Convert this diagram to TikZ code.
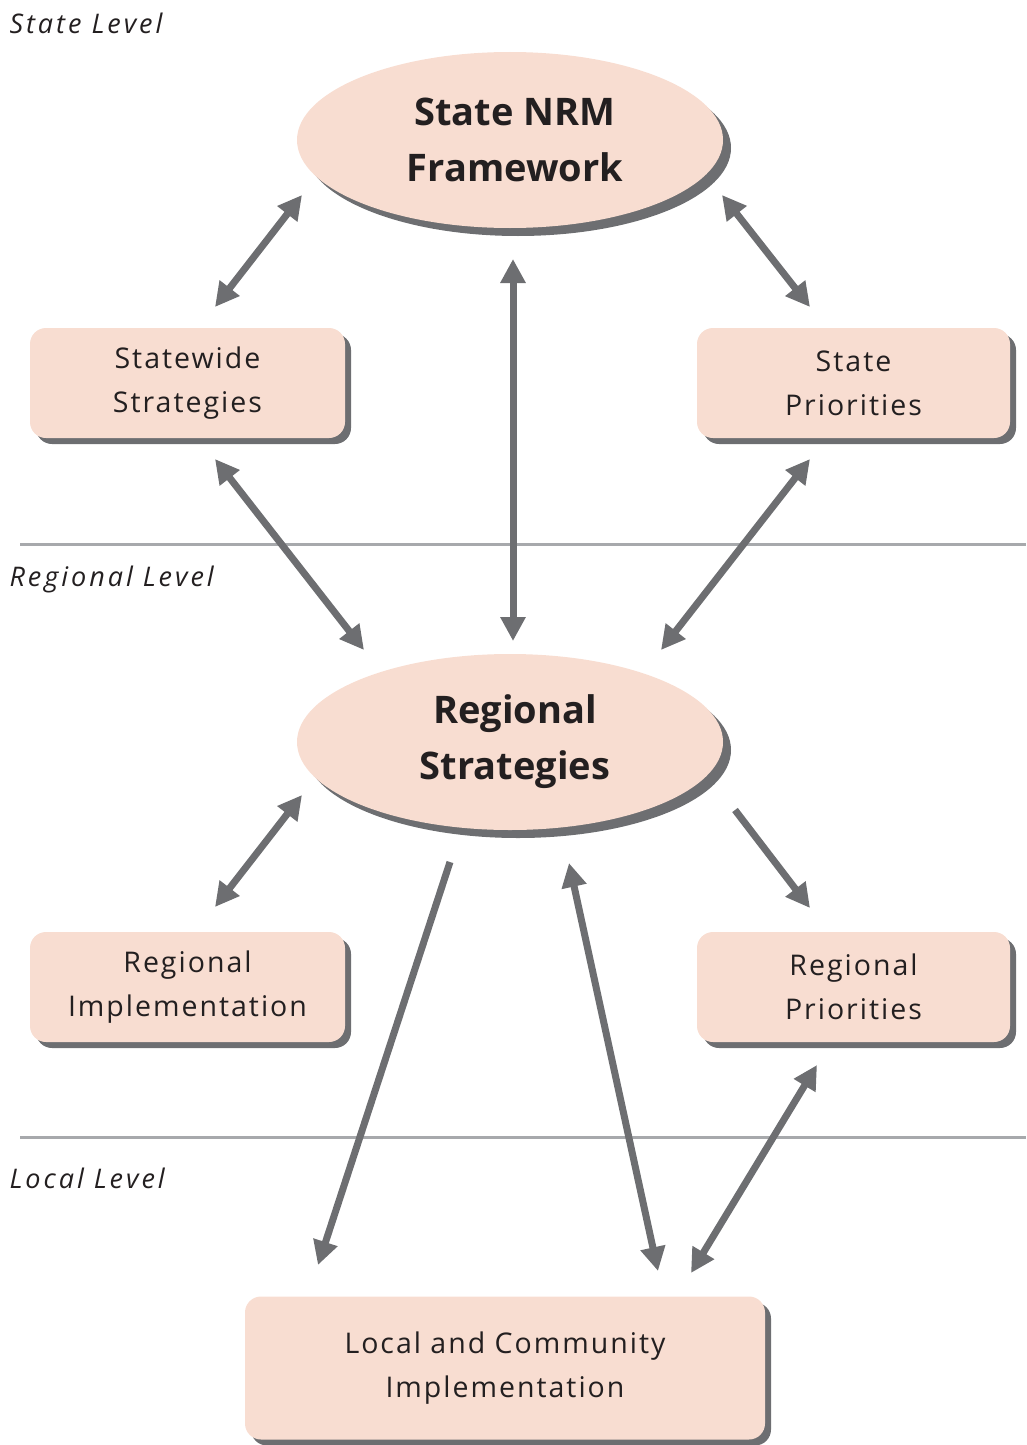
\documentclass[tikz,border=0pt]{standalone}
\usepackage{fontspec}
\setmainfont{Open Sans}
\newfontfamily\boxfont[LetterSpace=7]{Open Sans}
\newfontfamily\levelfont[LetterSpace=11]{Open Sans}
\usetikzlibrary{shapes.geometric,arrows.meta,shadows}
\definecolor{peach}{HTML}{F8DDD1}
\definecolor{shade}{HTML}{6D6E71}
\definecolor{rule}{HTML}{A7A9AC}
\definecolor{ink}{HTML}{231F20}
\tikzset{
  oval/.style={ellipse, fill=peach, inner sep=0pt, minimum width=426pt, minimum height=176pt,
    align=center, text=ink, font=\fontsize{38}{56}\selectfont\bfseries,
    drop shadow={shadow xshift=8pt, shadow yshift=-8pt, fill=shade, opacity=1}},
  box/.style={rectangle, rounded corners=16pt, fill=peach, inner sep=0pt,
    align=center, text=ink, font=\boxfont\fontsize{28.5}{44}\selectfont,
    drop shadow={shadow xshift=6pt, shadow yshift=-6pt, fill=shade, opacity=1}},
  conn/.style={draw=shade, line width=7pt, {Triangle[length=24pt,width=24pt]}-{Triangle[length=24pt,width=24pt]}},
  conn1/.style={draw=shade, line width=7pt, -{Triangle[length=24pt,width=24pt]}},
  level/.style={anchor=west, text=ink, font=\levelfont\fontsize{27}{30}\selectfont\itshape},
  divider/.style={draw=rule, line width=3pt}
}
\begin{document}
\begin{tikzpicture}[x=1pt,y=-1pt]
\useasboundingbox (0,0) rectangle (1026,1445);
% dividers
\coordinate (d1a) at (20,544); \coordinate (d1b) at (1026,544);
\coordinate (d2a) at (20,1137); \coordinate (d2b) at (1026,1137);
\draw[divider] (d1a) -- (d1b);
\draw[divider] (d2a) -- (d2b);
% level labels
\node[level] (lstate) at (6,23) {State Level};
\node[level] (lreg) at (6,579) {Regional Level};
\node[level] (lloc) at (6,1178) {Local Level};
% nodes
\node[oval] (snrm) at (510,140) {\hspace*{10pt}State NRM\\\hspace*{10pt}Framework};
\node[oval] (rs) at (510,742) {\hspace*{10pt}Regional\\\hspace*{10pt}Strategies};
\node[box, minimum width=315pt, minimum height=110pt] (sws) at (187.5,383) {Statewide\\Strategies};
\node[box, minimum width=313pt, minimum height=110pt] (sp) at (853.5,383) {State\\Priorities};
\node[box, minimum width=315pt, minimum height=110pt] (ri) at (187.5,987) {Regional\\Implementation};
\node[box, minimum width=313pt, minimum height=110pt] (rp) at (853.5,987) {Regional\\Priorities};
\node[box, minimum width=520pt, minimum height=143pt] (lc) at (505,1368) {Local and Community\\Implementation};
% arrow end points
\coordinate (a1s) at (302,195); \coordinate (a1e) at (215,307);
\coordinate (a2s) at (513,259); \coordinate (a2e) at (513,641);
\coordinate (a3s) at (722,195); \coordinate (a3e) at (810,307);
\coordinate (a4s) at (215,459); \coordinate (a4e) at (364,650);
\coordinate (a5s) at (810,459); \coordinate (a5e) at (661,650);
\coordinate (a6s) at (302,795); \coordinate (a6e) at (215,907);
\coordinate (a7s) at (735,810); \coordinate (a7e) at (810,908);
\coordinate (a8s) at (450,862); \coordinate (a8e) at (318,1265);
\coordinate (a9s) at (569,863); \coordinate (a9e) at (658,1271);
\coordinate (a10s) at (817,1065); \coordinate (a10e) at (691,1273);
\draw[conn] (a1s) -- (a1e);
\draw[conn] (a2s) -- (a2e);
\draw[conn] (a3s) -- (a3e);
\draw[conn] (a4s) -- (a4e);
\draw[conn] (a5s) -- (a5e);
\draw[conn] (a6s) -- (a6e);
\draw[conn1] (a7s) -- (a7e);
\draw[conn1] (a8s) -- (a8e);
\draw[conn] (a9s) -- (a9e);
\draw[conn] (a10s) -- (a10e);
\end{tikzpicture}
\end{document}
